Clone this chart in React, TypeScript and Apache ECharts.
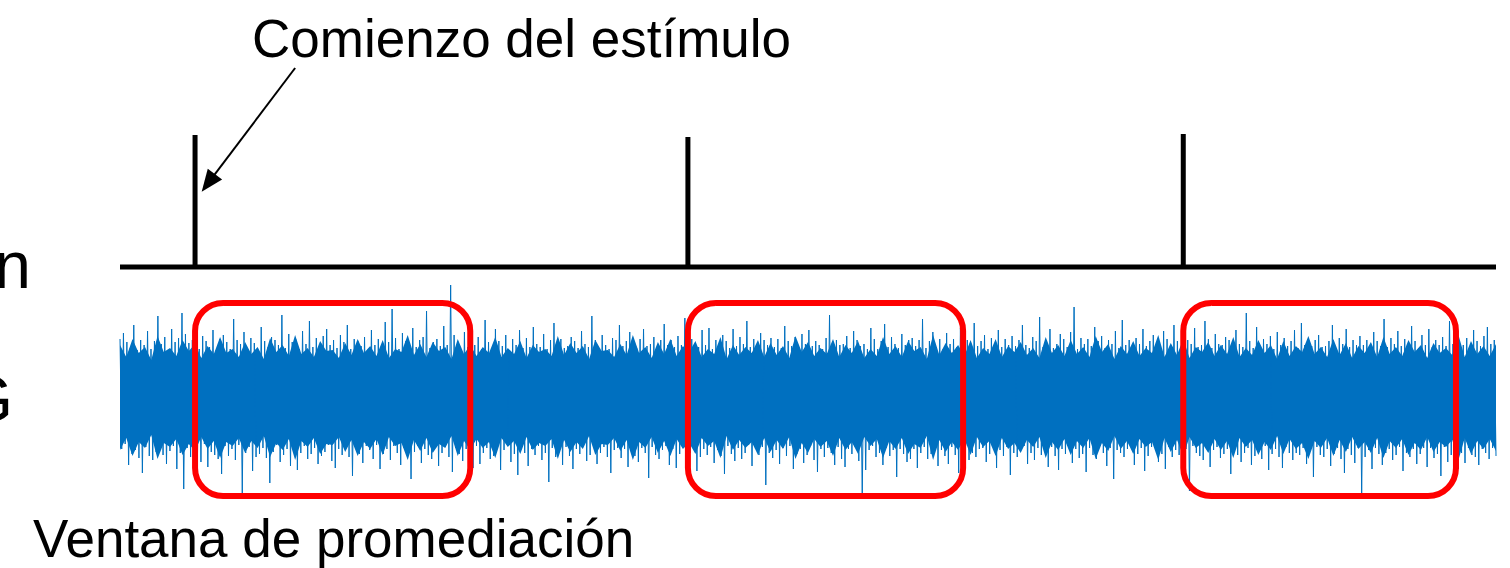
import React, { useEffect, useRef } from "react";
import * as echarts from "echarts";

// ---- data (time in seconds, amplitude in display units) ----
const duration = 110;
const stimulusTimes = [6.0, 45.4, 85.0];
const stimulusHeights = [132, 130, 133];
const stimulusBaseline = 130;
const windowStarts = [6.0, 45.4, 85.0];
const windowEnds = [28.0, 67.4, 106.8];
const windowLow = -99;
const windowHigh = 94;
// dense part of the EEG trace, read every 0.5 s
const envelopeUpper = [
  52,40,58,44,50,37,61,45,49,41,57,46,53,39,51,43,60,44,48,40,
  55,43,50,38,59,45,52,41,62,43,49,40,56,46,47,39,54,42,58,44,
  51,41,57,39,48,45,62,42,53,40,55,46,50,38,58,43,52,41,50,44,
  60,40,49,43,56,39,52,45,48,41,61,42,54,44,51,38,57,46,47,40,
  53,42,62,44,50,39,55,43,58,41,51,45,56,40,48,43,60,38,52,42,
  50,44,57,40,54,42,51,39,61,45,55,41,49,43,58,40,52,44,56,39,
  48,41,60,43,51,40,56,46,50,38,62,42,54,44,52,41,57,39,49,43,
  58,40,51,45,55,42,49,39,60,44,52,41,57,43,50,40,61,45,53,38,
  51,43,56,41,49,44,62,40,54,42,58,39,50,45,55,41,52,43,60,40,
  49,42,57,44,52,38,56,41,51,45,61,43,50,40,58,42,54,39,51,44,
  55,40,60,43,50,41,57,45,52,39,54,44,49,42,62,40,56,43,51,41,
  53,
];
const envelopeLower = [
  -53,-41,-59,-45,-51,-38,-62,-46,-50,-42,-58,-47,-54,-40,-52,-44,-61,-45,-49,-41,
  -56,-44,-51,-39,-60,-46,-53,-42,-63,-44,-50,-41,-57,-47,-48,-40,-55,-43,-59,-45,
  -52,-42,-58,-40,-49,-46,-63,-43,-54,-41,-56,-47,-51,-39,-59,-44,-53,-42,-51,-45,
  -61,-41,-50,-44,-57,-40,-53,-46,-49,-42,-62,-43,-55,-45,-52,-39,-58,-47,-48,-41,
  -54,-43,-63,-45,-51,-40,-56,-44,-59,-42,-52,-46,-57,-41,-49,-44,-61,-39,-53,-43,
  -51,-45,-58,-41,-55,-43,-52,-40,-62,-46,-56,-42,-50,-44,-59,-41,-53,-45,-57,-40,
  -49,-42,-61,-44,-52,-41,-57,-47,-51,-39,-63,-43,-55,-45,-53,-42,-58,-40,-50,-44,
  -59,-41,-52,-46,-56,-43,-50,-40,-61,-45,-53,-42,-58,-44,-51,-41,-62,-46,-54,-39,
  -52,-44,-57,-42,-50,-45,-63,-41,-55,-43,-59,-40,-51,-46,-56,-42,-53,-44,-61,-41,
  -50,-43,-58,-45,-53,-39,-57,-42,-52,-46,-62,-44,-51,-41,-59,-43,-55,-40,-52,-45,
  -56,-41,-61,-44,-51,-42,-58,-46,-53,-40,-55,-45,-50,-43,-63,-41,-57,-44,-52,-42,
  -54,
];
// raw EEG samples (peaks and troughs)
const eegValues = [
  58,-52,64,-47,55,-68,49,-57,72,-53,47,-61,57,-76,52,-50,66,-59,48,-63,
  56,-55,81,-48,53,-58,60,-67,46,-54,68,-49,55,-72,59,-56,84,-92,63,-51,
  54,-60,57,-50,73,-57,48,-65,61,-47,56,-70,50,-55,67,-58,47,-62,58,-77,
  62,-49,55,-59,48,-52,78,-63,57,-48,53,-96,65,-56,49,-50,59,-74,54,-60,
  47,-57,70,-51,56,-61,50,-86,60,-55,57,-48,52,-65,82,-58,49,-52,63,-69,
  55,-50,58,-73,48,-56,66,-49,53,-62,76,-57,50,-51,59,-67,46,-59,61,-55,
  68,-48,52,-64,57,-71,49,-52,62,-58,55,-50,72,-60,48,-79,58,-51,56,-57,
  51,-66,60,-49,47,-53,67,-62,52,-48,58,-72,49,-57,75,-52,55,-63,88,-49,
  59,-56,48,-68,64,-51,56,-59,51,-82,69,-55,50,-49,57,-66,60,-52,86,-58,
  49,-62,55,-48,58,-69,51,-56,71,-50,52,-60,112,-75,62,-51,56,-57,48,-64,
  65,-52,50,-58,57,-71,52,-49,60,-67,48,-56,77,-51,55,-62,49,-59,68,-50,
  56,-73,51,-53,62,-48,47,-65,58,-57,52,-78,67,-50,49,-56,59,-69,50,-52,
  70,-58,53,-49,50,-63,63,-56,48,-85,57,-51,74,-60,52,-53,58,-68,49,-50,
  51,-59,60,-72,56,-52,49,-57,66,-49,53,-64,50,-58,81,-51,57,-67,47,-56,
  62,-50,52,-60,48,-76,59,-53,57,-51,72,-61,51,-52,56,-70,65,-55,50,-59,
  49,-65,58,-51,68,-56,51,-81,53,-50,60,-58,48,-62,57,-53,73,-49,52,-68,
  57,-52,50,-71,61,-57,52,-48,79,-63,49,-56,58,-51,53,-74,50,-60,67,-52,
  52,-58,69,-50,48,-66,57,-53,51,-59,62,-77,56,-49,49,-57,68,-64,51,-51,
  60,-62,53,-56,76,-48,50,-69,58,-52,48,-58,64,-50,57,-88,52,-56,59,-61,
  50,-53,58,-67,49,-51,71,-59,56,-49,51,-72,60,-57,47,-52,63,-66,53,-58,
  67,-49,51,-63,56,-75,52,-52,48,-60,59,-51,82,-56,50,-68,57,-50,52,-62,
  53,-70,61,-52,49,-57,66,-50,57,-64,51,-100,53,-73,48,-53,69,-49,58,-60,
  48,-56,56,-68,73,-51,50,-59,60,-53,53,-80,49,-52,63,-57,52,-65,57,-62,
  59,-52,51,-71,57,-56,78,-50,49,-62,56,-57,65,-51,50,-69,58,-53,48,-59,
  64,-67,53,-50,58,-58,50,-76,69,-52,52,-49,57,-63,49,-56,74,-60,51,-52,
  56,-51,62,-65,48,-57,59,-50,53,-71,67,-53,50,-59,58,-50,52,-78,61,-56,
  51,-60,57,-52,72,-49,52,-67,49,-56,60,-63,56,-51,80,-58,50,-53,57,-70,
  68,-50,49,-59,53,-73,63,-52,58,-57,50,-49,65,-66,90,-52,48,-61,59,-57,
  53,-75,58,-51,51,-58,70,-62,56,-49,61,-56,49,-69,57,-51,53,-82,66,-53,
  49,-56,77,-60,52,-52,57,-49,50,-68,59,-57,53,-51,68,-74,51,-59,56,-50,
  62,-51,52,-65,49,-57,66,-72,58,-50,51,-60,72,-53,56,-58,48,-67,60,-52,
  57,-94,53,-49,69,-56,50,-59,52,-63,76,-51,58,-70,49,-53,63,-50,53,-61,
  52,-57,60,-52,57,-77,51,-50,67,-58,53,-65,50,-56,84,-51,56,-68,49,-59,
  70,-53,50,-62,58,-49,53,-73,61,-57,48,-52,65,-60,52,-71,59,-50,51,-56,
  56,-63,67,-56,49,-58,74,-51,52,-67,58,-53,51,-80,57,-50,62,-58,50,-60,
  51,-52,56,-69,72,-57,48,-51,59,-62,53,-76,68,-52,50,-58,57,-66,52,-51,
  61,-97,52,-60,57,-53,49,-72,65,-51,56,-57,51,-68,78,-56,50,-52,59,-63,
  53,-58,66,-50,51,-74,58,-56,50,-60,71,-52,56,-67,49,-57,62,-51,52,-70,
  68,-51,50,-61,57,-57,52,-79,60,-50,51,-65,76,-58,53,-53,58,-72,49,-56,
  52,-66,59,-51,50,-58,67,-60,56,-68,51,-52,61,-56,70,-62,53,-51,57,-59,
];
const arrowFrom = [14.0, 329];
const arrowTo = [7.06, 214.1];
const titleText = "Comienzo del estímulo";
const windowText = "Ventana de promediación";
const stimLabel = "Estimulación";
const eegLabel = "EEG";

const BLUE = "#0070c0";
const FONT = "'Liberation Sans', Arial, sans-serif";

export default function App() {
  const ref = useRef<HTMLDivElement>(null);
  useEffect(() => {
    if (!ref.current) return;
    const chart = echarts.init(ref.current, null, { renderer: "svg" });

    const stimData: number[][] = [[0, stimulusBaseline]];
    stimulusTimes.forEach((t, i) => {
      stimData.push([t, stimulusBaseline]);
      stimData.push([t, stimulusBaseline + stimulusHeights[i]]);
      stimData.push([t, stimulusBaseline]);
    });
    stimData.push([duration, stimulusBaseline]);

    const n = eegValues.length;
    const eegData = eegValues.map((v, i) => [(i * duration) / (n - 1), v]);
    const upData = envelopeUpper.map((v, i) => [(i * duration) / (envelopeUpper.length - 1), v]);
    const loData = envelopeLower.map((v, i) => [(i * duration) / (envelopeLower.length - 1), v]);
    const windows = windowStarts.map((s, i) => [s, windowEnds[i], windowLow, windowHigh]);

    const envSeries = (data: number[][]) => ({
      type: "line",
      data,
      symbol: "none",
      lineStyle: { width: 0 },
      areaStyle: { color: BLUE, opacity: 1, origin: 0 },
      silent: true,
      z: 1,
    });

    chart.setOption({
      animation: false,
      backgroundColor: "#ffffff",
      grid: { left: 120, right: 14, top: 60, height: 460 },
      xAxis: { type: "value", min: 0, max: duration, show: false },
      yAxis: { type: "value", min: -123, max: 337, show: false },
      series: [
        envSeries(upData),
        envSeries(loData),
        {
          type: "line",
          data: eegData,
          symbol: "none",
          lineStyle: { color: BLUE, width: 1 },
          silent: true,
          z: 2,
        },
        {
          type: "line",
          data: stimData,
          symbol: "none",
          lineStyle: { color: "#000000", width: 5, join: "bevel", cap: "butt" },
          silent: true,
          z: 3,
          markLine: {
            silent: true,
            symbol: ["none", "triangle"],
            symbolSize: [18, 22],
            label: { show: false },
            lineStyle: { color: "#000000", width: 2, type: "solid" },
            data: [[{ coord: arrowFrom }, { coord: arrowTo }]],
          },
        },
        {
          type: "custom",
          data: windows,
          encode: { x: [0, 1], y: [2, 3] },
          silent: true,
          z: 5,
          renderItem: (params: any, api: any) => {
            const p1 = api.coord([api.value(0), api.value(3)]);
            const p2 = api.coord([api.value(1), api.value(2)]);
            return {
              type: "rect",
              shape: { x: p1[0], y: p1[1], width: p2[0] - p1[0], height: p2[1] - p1[1], r: 28 },
              style: { fill: "none", stroke: "#ff0000", lineWidth: 6 },
            };
          },
        },
      ],
      graphic: [
        {
          type: "text",
          left: 252,
          top: 12,
          style: { text: titleText, font: `53px ${FONT}`, fill: "#000" },
          z: 10,
        },
        {
          type: "text",
          left: 33,
          top: 512,
          style: { text: windowText, font: `53px ${FONT}`, fill: "#000" },
          z: 10,
        },
        {
          type: "text",
          right: 1510 - 31,
          top: 232,
          style: { text: stimLabel, font: `66px ${FONT}`, fill: "#000" },
          z: 10,
        },
        {
          type: "text",
          right: 1510 - 13,
          top: 366,
          style: { text: eegLabel, font: `66px ${FONT}`, fill: "#000" },
          z: 10,
        },
      ],
    });
    return () => chart.dispose();
  }, []);
  return (
    <div
      ref={ref}
      style={{ position: "fixed", left: 0, top: 0, width: 1510, height: 568, background: "#fff" }}
    />
  );
}
